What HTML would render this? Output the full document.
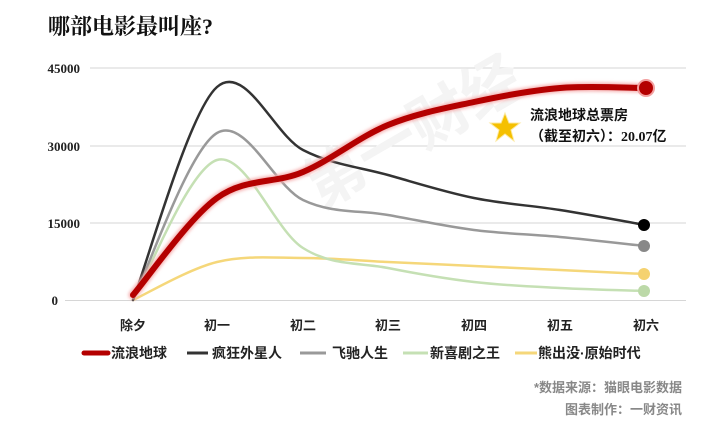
<!DOCTYPE html>
<html><head><meta charset="utf-8"><style>
body{margin:0;width:720px;height:432px;background:#fff;overflow:hidden;font-family:"Liberation Serif","Noto Serif CJK SC",serif;}
svg{position:absolute;left:0;top:0}
</style></head><body>
<svg width="720" height="432" xmlns="http://www.w3.org/2000/svg">
<defs><filter id="glow" x="-10%" y="-10%" width="120%" height="120%"><feGaussianBlur stdDeviation="1.5"/></filter></defs>
<text x="48" y="34" font-size="22" font-weight="bold" font-family="Liberation Serif,Noto Serif CJK SC,serif" fill="#111">哪部电影最叫座?</text>
<g stroke="#d6d6d6" stroke-width="1">
<line x1="90" y1="68" x2="686" y2="68"/><line x1="90" y1="146" x2="686" y2="146"/>
<line x1="90" y1="223" x2="686" y2="223"/><line x1="65" y1="300.5" x2="686" y2="300.5"/></g>
<g font-size="13" font-weight="bold" fill="#222" text-anchor="end" font-family="Liberation Serif,serif">
<text x="80" y="73">45000</text><text x="80" y="151">30000</text><text x="80" y="228">15000</text><text x="58" y="305">0</text></g>
<g font-size="13" font-weight="bold" fill="#222" text-anchor="middle" font-family="Liberation Sans,Noto Sans CJK SC,sans-serif">
<text x="133" y="330">除夕</text><text x="217" y="330">初一</text><text x="303" y="330">初二</text><text x="388" y="330">初三</text><text x="474" y="330">初四</text><text x="560" y="330">初五</text><text x="646" y="330">初六</text></g>
<text x="320" y="210" font-size="60" font-weight="bold" fill="#f4f4f4" transform="rotate(-30 320 210)" font-family="Noto Sans CJK SC,sans-serif">第一财经</text>
<g id="lines" fill="none" stroke-linecap="round"></g>
<circle cx="646" cy="88" r="8" fill="#b40000" stroke="#f3a0a0" stroke-width="2"/>
<circle cx="644" cy="225" r="6" fill="#000"/>
<circle cx="644" cy="246" r="6" fill="#888"/>
<circle cx="644" cy="274" r="6" fill="#f5d270"/>
<circle cx="644" cy="291" r="6" fill="#bcd9a8"/>
<polygon points="505,113 509,123 520,123 511,130 514,141 505,134 496,141 499,130 490,123 501,123" fill="#f5c000" stroke="#fce9a0" stroke-width="1"/>
<g font-size="14" font-weight="bold" fill="#111" font-family="Liberation Serif,Noto Sans CJK SC,sans-serif">
<text x="530" y="120">流浪地球总票房</text><text x="530" y="141">（截至初六）：20.07亿</text></g>
<g font-size="14" font-weight="bold" fill="#222" font-family="Liberation Sans,Noto Sans CJK SC,sans-serif">
<line x1="84" y1="353" x2="108" y2="353" stroke="#b40000" stroke-width="5" stroke-linecap="round"/><text x="111" y="358">流浪地球</text>
<line x1="187" y1="353" x2="208" y2="353" stroke="#333" stroke-width="3"/><text x="212" y="358">疯狂外星人</text>
<line x1="300" y1="353" x2="326" y2="353" stroke="#999" stroke-width="3"/><text x="332" y="358">飞驰人生</text>
<line x1="403" y1="353" x2="428" y2="353" stroke="#c5e0b4" stroke-width="3"/><text x="430" y="358">新喜剧之王</text>
<line x1="515" y1="353" x2="537" y2="353" stroke="#f5d77a" stroke-width="3"/><text x="538" y="358">熊出没·原始时代</text></g>
<g font-size="13" font-weight="bold" fill="#888" text-anchor="end" font-family="Liberation Sans,Noto Sans CJK SC,sans-serif">
<text x="682" y="392">*数据来源：猫眼电影数据</text><text x="682" y="414">图表制作：一财资讯</text></g>
</svg>
<script>
var X=[133,217,303,388,474,560,645];
var S=[
["#f5d77a",2.5,[300,262,258,262,266,270,274]],
["#c5e0b4",2.5,[300,160,248,268,282,288,291]],
["#999",2.5,[300,133,200,215,230,237,246]],
["#333",2.5,[300,87,150,175,198,210,225]],
["#b40000",6,[295,198,172,125,102,88,88]]];
var g=document.getElementById('lines');
S.forEach(function(s){var y=s[2],d="M"+X[0]+","+y[0];
for(var i=0;i<6;i++){var p0=[X[Math.max(i-1,0)],y[Math.max(i-1,0)]],p1=[X[i],y[i]],p2=[X[i+1],y[i+1]],p3=[X[Math.min(i+2,6)],y[Math.min(i+2,6)]];
d+=" C"+(p1[0]+(p2[0]-p0[0])/6)+","+(p1[1]+(p2[1]-p0[1])/6)+" "+(p2[0]-(p3[0]-p1[0])/6)+","+(p2[1]-(p3[1]-p1[1])/6)+" "+p2[0]+","+p2[1];}
if(s[1]>5){var h=document.createElementNS("http://www.w3.org/2000/svg","path");h.setAttribute("d",d);h.setAttribute("stroke","#f6b0b0");h.setAttribute("stroke-width","9");h.setAttribute("filter","url(#glow)");g.appendChild(h);}
var p=document.createElementNS("http://www.w3.org/2000/svg","path");p.setAttribute("d",d);p.setAttribute("stroke",s[0]);p.setAttribute("stroke-width",s[1]);g.appendChild(p);});
</script>
</body></html>
